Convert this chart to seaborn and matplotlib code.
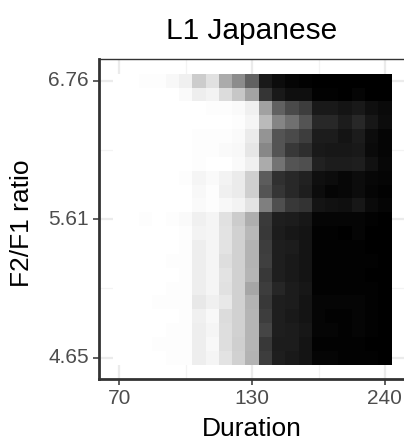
import numpy as np
import pandas as pd
import matplotlib
matplotlib.use("Agg")
import matplotlib.pyplot as plt
import seaborn as sns

# Stimulus continua (log-spaced steps)
durations = [70, 74, 79, 84, 90, 95, 101, 108, 115, 122, 130,
             138, 147, 156, 166, 176, 187, 199, 212, 225, 240]
ratios = [6.76, 6.64, 6.51, 6.39, 6.27, 6.16, 6.04, 5.93, 5.82, 5.71, 5.61,
          5.50, 5.40, 5.30, 5.20, 5.10, 5.01, 4.92, 4.83, 4.74, 4.65]

x_tick_labels = [70, 130, 240]
y_tick_labels = [6.76, 5.61, 4.65]

# Proportion of "long" responses; one row per F2/F1 ratio (top to bottom)
p_ratio_676 = [0, 0, .01, .01, .03, .06, .20, .12, .33, .45, .62, .90, .95, .98, .99, 1, 1, 1, 1, 1, 1]
p_ratio_664 = [0, 0, 0, 0, 0, .02, .07, .05, .14, .22, .36, .79, .90, .94, .94, .99, .99, 1, .98, 1, 1]
p_ratio_651 = [0, 0, 0, 0, 0, 0, 0, .01, .01, .02, .06, .37, .62, .71, .76, .90, .90, .92, .90, .94, .96]
p_ratio_639 = [0, 0, 0, 0, 0, 0, 0, 0, 0, .01, .04, .27, .48, .56, .67, .84, .84, .89, .84, .91, .95]
p_ratio_627 = [0, 0, 0, 0, 0, 0, .01, .01, .01, .02, .08, .42, .67, .71, .76, .89, .89, .92, .89, .95, .98]
p_ratio_616 = [0, 0, 0, 0, 0, 0, .01, .01, .02, .03, .10, .47, .67, .78, .82, .90, .91, .91, .90, .96, .98]
p_ratio_604 = [0, 0, 0, 0, 0, 0, .01, 0, 0, .02, .06, .33, .55, .67, .69, .87, .89, .89, .88, .93, .97]
p_ratio_593 = [0, 0, 0, 0, 0, .01, .04, .02, .05, .08, .19, .64, .81, .84, .87, .94, .95, .97, .95, .97, .98]
p_ratio_582 = [0, 0, 0, 0, 0, 0, .03, .01, .06, .08, .19, .67, .79, .84, .88, .95, .98, .97, .95, .98, .99]
p_ratio_571 = [0, 0, 0, 0, 0, 0, .02, .01, .03, .05, .11, .50, .69, .78, .80, .92, .93, .94, .91, .96, .98]
p_ratio_561 = [0, 0, .01, 0, .01, .02, .06, .04, .12, .20, .32, .77, .88, .89, .91, .98, .98, .98, .98, .99, 1]
p_ratio_550 = [0, 0, 0, 0, 0, .01, .05, .04, .11, .18, .28, .78, .89, .91, .92, .99, .99, 1, .98, 1, 1]
p_ratio_540 = [0, 0, 0, 0, 0, .01, .07, .04, .11, .18, .30, .76, .88, .89, .92, .99, .99, .99, .99, 1, 1]
p_ratio_530 = [0, 0, 0, 0, .01, .01, .07, .04, .13, .18, .30, .75, .88, .90, .92, .99, .99, .99, .99, .99, 1]
p_ratio_520 = [0, 0, 0, 0, 0, .01, .07, .04, .11, .18, .29, .78, .88, .90, .92, .99, .99, .99, .99, 1, 1]
p_ratio_510 = [0, 0, 0, 0, .01, .01, .07, .04, .12, .18, .35, .76, .85, .89, .91, .99, .99, .99, .99, .99, 1]
p_ratio_501 = [0, 0, 0, .01, .01, .01, .09, .06, .09, .18, .30, .78, .88, .89, .92, .98, .98, .98, .98, .99, 1]
p_ratio_492 = [0, 0, 0, 0, 0, .01, .06, .03, .14, .18, .29, .76, .88, .90, .92, .98, .99, .99, .98, .99, 1]
p_ratio_483 = [0, 0, 0, 0, .01, .01, .07, .04, .13, .18, .29, .73, .88, .89, .91, .98, .98, .99, .98, .99, 1]
p_ratio_474 = [0, 0, 0, .01, .01, .01, .07, .03, .13, .19, .29, .78, .89, .89, .92, .99, .99, .99, .99, 1, 1]
p_ratio_465 = [0, 0, 0, 0, .01, .01, .07, .04, .11, .18, .30, .76, .88, .90, .92, .98, .98, .99, .99, .99, 1]

rows = [p_ratio_676, p_ratio_664, p_ratio_651, p_ratio_639, p_ratio_627, p_ratio_616,
        p_ratio_604, p_ratio_593, p_ratio_582, p_ratio_571, p_ratio_561, p_ratio_550,
        p_ratio_540, p_ratio_530, p_ratio_520, p_ratio_510, p_ratio_501, p_ratio_492,
        p_ratio_483, p_ratio_474, p_ratio_465]

df = pd.DataFrame(rows, index=ratios, columns=durations)

sns.set_theme(style="white")
plt.rcParams["font.family"] = ["Liberation Sans", "DejaVu Sans"]

W, H = 404, 442
fig = plt.figure(figsize=(W / 100, H / 100), dpi=100)
fig.patch.set_facecolor("white")
ax = fig.add_axes([98.7 / W, 1 - 379.2 / H, (405.5 - 98.7) / W, (379.2 - 59.2) / H])

sns.heatmap(df, cmap="gray_r", vmin=0, vmax=1, cbar=False, ax=ax,
            linewidths=0, rasterized=False)

n_x, n_y = len(durations), len(ratios)
pad_x, pad_y = 0.05 * n_x, 0.05 * n_y
ax.set_xlim(-pad_x, n_x + pad_x)
ax.set_ylim(n_y + pad_y, -pad_y)

# Major ticks at labelled steps, minor halfway between them
xt = [durations.index(v) + 0.5 for v in x_tick_labels]
yt = [ratios.index(v) + 0.5 for v in y_tick_labels]
ax.set_xticks(xt)
ax.set_xticklabels([str(v) for v in x_tick_labels], rotation=0)
ax.set_yticks(yt)
ax.set_yticklabels([f"{v:.2f}" for v in y_tick_labels], rotation=0)
ax.set_xticks([(xt[0] + xt[1]) / 2, (xt[1] + xt[2]) / 2], minor=True)
ax.set_yticks([(yt[0] + yt[1]) / 2, (yt[1] + yt[2]) / 2], minor=True)

ax.set_axisbelow(True)
ax.grid(True, which="major", color="#EBEBEB", linewidth=1.6, zorder=0)
ax.grid(True, which="minor", color="#F3F3F3", linewidth=0.9, zorder=0)
ax.set_facecolor("white")
ax.set_xlabel("")
ax.set_ylabel("")

ax.tick_params(axis="both", which="major", direction="out", length=4.6, width=1.1,
               color="#333333", labelcolor="#4D4D4D", labelsize=15, pad=2.5,
               bottom=True, left=True)
ax.tick_params(axis="both", which="minor", length=0)

for side in ["left", "bottom"]:
    ax.spines[side].set_visible(True)
    ax.spines[side].set_color("#333333")
    ax.spines[side].set_linewidth(2.0)
for side in ["top", "right"]:
    ax.spines[side].set_visible(True)
    ax.spines[side].set_color("#333333")
    ax.spines[side].set_linewidth(1.0)

fig.text(252 / W, 1 - 39 / H, "L1 Japanese", ha="center", va="baseline",
         fontsize=21.5, color="black")
fig.text(252 / W, 1 - 436.5 / H, "Duration", ha="center", va="baseline",
         fontsize=19, color="black")
fig.text(22 / W, 1 - 223.5 / H, "F2/F1 ratio", ha="center", va="center",
         rotation=90, fontsize=19, color="black")

fig.savefig("out.png", dpi=100, facecolor="white")
